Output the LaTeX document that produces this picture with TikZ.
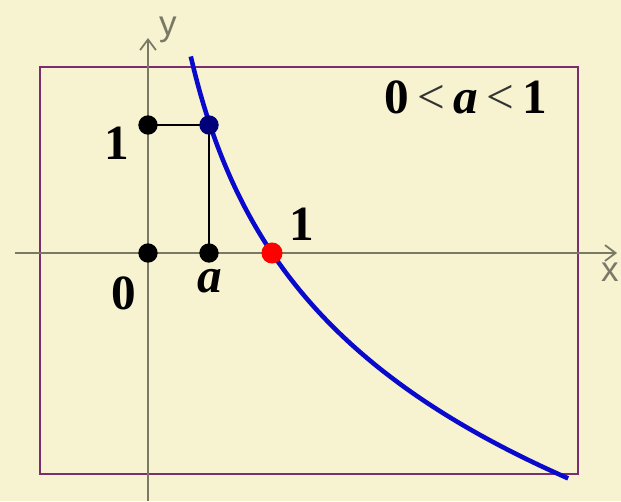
\documentclass[tikz,border=0pt]{standalone}
\usepackage{fontspec}
\setmainfont{Liberation Serif}
\setsansfont{Liberation Sans}
\usetikzlibrary{arrows.meta}
\definecolor{bg}{HTML}{F7F2CF}
\definecolor{frame}{HTML}{7A2E6E}
\definecolor{axisc}{HTML}{7A7866}
\definecolor{curve}{HTML}{0A0ACC}
\tikzset{
  dot/.style={circle,fill=black,inner sep=0pt,minimum size=11pt},
  lbl/.style={font=\fontsize{28}{28}\selectfont\bfseries,inner sep=0pt},
  axis/.style={draw=axisc,line width=1pt},
}
\begin{document}
\begin{tikzpicture}[x=0.02cm,y=-0.02cm]
\fill[bg] (0,0) rectangle (621,501);
\useasboundingbox (0,0) rectangle (621,501);
\draw[frame,line width=1.6pt] (40,67) rectangle (578,474);
% axes
\coordinate (xs) at (15,253);
\coordinate (xe) at (617,253);
\coordinate (ys) at (148,501);
\coordinate (ye) at (148,38);
\draw[axis,-{Straight Barb[length=6pt,width=9pt]}] (xs) -- (xe);
\draw[axis,-{Straight Barb[length=6pt,width=9pt]}] (ys) -- (ye);
\node[text=axisc,font=\sffamily\fontsize{20}{20}\selectfont] (ylab) at (168,30) {y};
\node[text=axisc,font=\sffamily\fontsize{20}{20}\selectfont,anchor=east,inner sep=0pt] (xlab) at (619,272) {x};
% curve y = -log2(x), 1 unit = 124px (x), 128px (y)
\draw[curve,line width=2.6pt,domain=0.345:3.39,samples=120,variable=\t]
  plot ({148+124*\t},{253+128*ln(\t)/ln(2)});
% guides
\coordinate (o) at (148,253);
\coordinate (pa) at (209,253);
\coordinate (p1) at (148,125);
\coordinate (pq) at (209,125);
\coordinate (pr) at (272,253);
\draw[black,line width=1.2pt] (p1) -- (pq) -- (pa);
\node[dot] (d0) at (o) {};
\node[dot] (da) at (pa) {};
\node[dot] (d1) at (p1) {};
\node[dot,fill=black!40!blue!80!black] (dq) at (pq) {};
\node[dot,fill=red,minimum size=12pt] (dr) at (pr) {};
% labels
\node[lbl] (l1) at (117,143) {1};
\node[lbl] (l1x) at (302,224) {1};
\node[lbl] (l0) at (124,293) {0};
\node[lbl] (la) at (210,281) {\itshape a};
\node[lbl,anchor=center] (cond) at (466,97) {0\,{\mdseries\color{black!80}<}\,\itshape a\,{\upshape\mdseries\color{black!80}<}\,\upshape 1};
\end{tikzpicture}
\end{document}
